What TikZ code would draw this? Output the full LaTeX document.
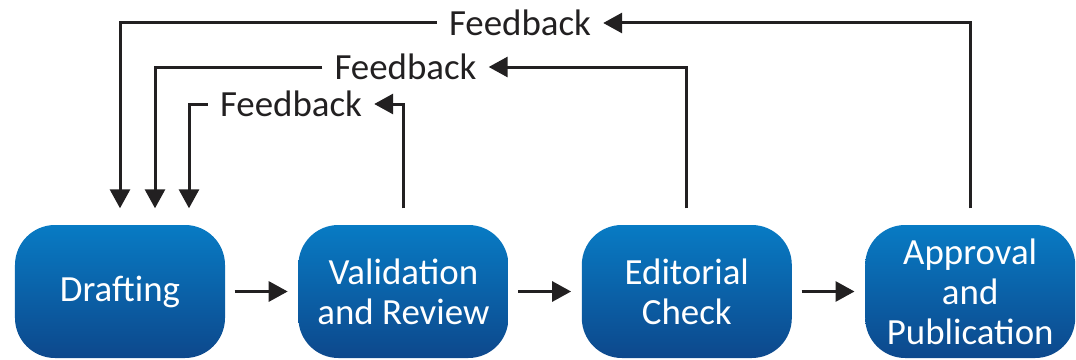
\documentclass[tikz,border=0pt]{standalone}
\usepackage{xcolor}
\usepackage{fontspec}
\setmainfont{Carlito}
\usepackage{tikz}
\usetikzlibrary{positioning,arrows.meta}

\definecolor{boxtop}{RGB}{8,123,196}
\definecolor{boxbot}{RGB}{13,72,140}
\definecolor{linegray}{RGB}{34,32,33}

\begin{document}
\begin{tikzpicture}[thick, node distance=1.44cm,
    box/.style={rounded corners=0.8cm, minimum width=4.2cm, minimum height=2.66cm,
        top color=boxtop, bottom color=boxbot, text=white, align=center,
        font=\fontsize{21}{22.8}\selectfont},
    fb/.style={inner xsep=0.23cm, inner ysep=0pt, text=linegray,
        font=\fontsize{21}{22.8}\selectfont},
    line/.style={line width=0.06cm, draw=linegray,
        -{Triangle[length=0.38cm,width=0.4cm]}}]

    \useasboundingbox (0,0) rectangle (21.52,7.18);

    % 定义流程节点
    \node (draft) [box] at (2.4,1.35) {Drafting};
    \node (valid) [box, right=of draft] {Validation\\and Review};
    \node (edit) [box, right=of valid] {Editorial\\Check};
    \node (appr) [box, right=of edit] {Approval\\and\\Publication};

    \draw[line, shorten <=0.18cm, shorten >=0.2cm] (draft) -> (valid);
    \draw[line, shorten <=0.18cm, shorten >=0.2cm] (valid) -> (edit);
    \draw[line, shorten <=0.18cm, shorten >=0.2cm] (edit) -> (appr);

    % 反馈
    \node (fb1) [fb] at (10.4,6.72) {Feedback};
    \node (fb2) [fb] at (8.11,5.84) {Feedback};
    \node (fb3) [fb] at (5.82,5.1) {Feedback};

    \draw[line] ([yshift=0.32cm]appr.north) |- (fb1);
    \draw[line] (fb1) -| ([yshift=0.32cm]draft.north);
    \draw[line] ([yshift=0.32cm]edit.north) |- (fb2);
    \draw[line] (fb2) -| ([xshift=0.7cm,yshift=0.32cm]draft.north);
    \draw[line] ([yshift=0.32cm]valid.north) |- (fb3);
    \draw[line] (fb3) -| ([xshift=1.38cm,yshift=0.32cm]draft.north);

\end{tikzpicture}
\end{document}
